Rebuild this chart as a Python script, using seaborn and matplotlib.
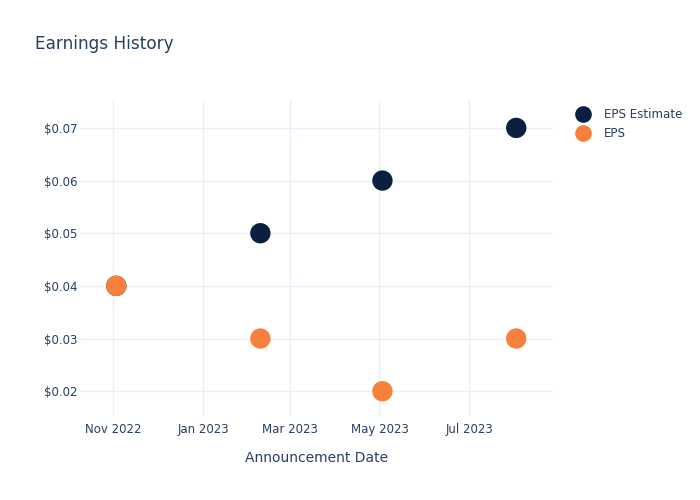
import matplotlib
matplotlib.use("Agg")
import matplotlib.pyplot as plt
import matplotlib.dates as mdates
import seaborn as sns
import pandas as pd
from matplotlib.lines import Line2D
from matplotlib.ticker import FuncFormatter

dates = ["2022-11-03", "2023-02-09", "2023-05-03", "2023-08-02"]
eps_estimate = [0.04, 0.05, 0.06, 0.07]
eps_actual = [0.04, 0.03, 0.02, 0.03]
series_names = ["EPS Estimate", "EPS"]
colors = ["#0b1f41", "#f7813a"]

df = pd.DataFrame({
    "date": pd.to_datetime(dates * 2),
    "value": eps_estimate + eps_actual,
    "series": [series_names[0]] * 4 + [series_names[1]] * 4,
})

sns.set_style("white")
plt.rcParams["font.family"] = ["DejaVu Sans"]
text_color = "#2a3f5f"

fig = plt.figure(figsize=(7, 5), dpi=100)
ax = fig.add_axes([80 / 700, 83 / 500, 473 / 700, 317 / 500])

sns.scatterplot(data=df, x="date", y="value", hue="series", palette=colors,
                s=215, edgecolor="none", ax=ax, legend=False, zorder=3)

ax.set_xlim(pd.Timestamp("2022-10-09 08:00"), pd.Timestamp("2023-08-27"))
ax.set_ylim(0.0151, 0.0753)
ax.set_yticks([0.02, 0.03, 0.04, 0.05, 0.06, 0.07])
ax.yaxis.set_major_formatter(FuncFormatter(lambda v, p: f"${v:.2f}"))
ticks = pd.to_datetime(["2022-11-01", "2023-01-01", "2023-03-01", "2023-05-01", "2023-07-01"])
ax.set_xticks(ticks)
ax.xaxis.set_major_formatter(mdates.DateFormatter("%b %Y"))

ax.grid(True, color="#ebf0f8", linewidth=1, zorder=0)
ax.set_axisbelow(True)
for s in ax.spines.values():
    s.set_visible(False)
ax.tick_params(axis="both", length=0, labelsize=8.5, colors=text_color)
ax.tick_params(axis="y", pad=2)
ax.tick_params(axis="x", pad=4)
ax.set_xlabel("Announcement Date", fontsize=10, color=text_color, labelpad=11)
ax.set_ylabel("")

fig.text(35 / 700, 1 - 44 / 500, "Earnings History", fontsize=12.2, color=text_color, va="center")

handles = [Line2D([], [], marker="o", linestyle="", markersize=12, color=c, markeredgecolor="none") for c in colors]
leg = fig.legend(handles, series_names, loc="upper left", bbox_to_anchor=(569 / 700, 1 - 103 / 500),
                 frameon=False, fontsize=8.6, handletextpad=1.05, labelspacing=0.55, borderaxespad=0,
                 handlelength=1.5)
for t in leg.get_texts():
    t.set_color(text_color)

fig.savefig("out.png", dpi=100)
